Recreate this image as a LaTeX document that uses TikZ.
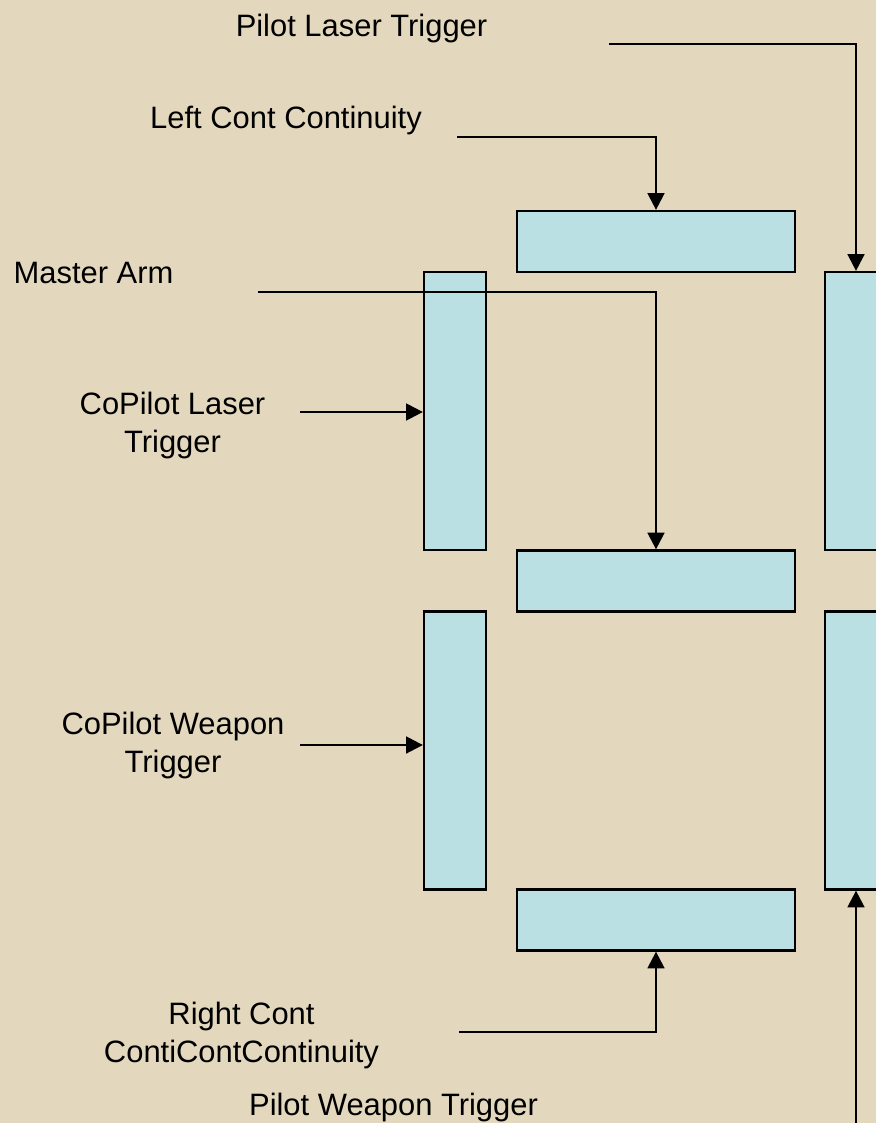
\documentclass[tikz,border=0pt]{standalone}
\usepackage{fontspec}
\setmainfont{Liberation Sans}
\usetikzlibrary{arrows.meta}
\definecolor{panelbg}{HTML}{E3D8BD}
\definecolor{segfill}{HTML}{BBE0E3}
\begin{document}
\begin{tikzpicture}[x=0.02cm, y=-0.02cm, >={Triangle[length=9.5pt,width=9.5pt]},
    every node/.style={font=\fontsize{17.6}{21.6}\selectfont},
    hseg/.style={draw, line width=1.3pt, fill=segfill, minimum width=5.56cm, minimum height=1.22cm, inner sep=0pt},
    vseg/.style={draw, line width=1.3pt, fill=segfill, minimum width=1.24cm, minimum height=5.56cm, inner sep=0pt},
    lbl/.style={anchor=base, align=center, inner sep=0pt},
    wire/.style={line width=1.4pt}]
    \clip (0,0) rectangle (876,1123);
    \fill[panelbg] (0,0) rectangle (876,1123);

    % --- 1. segments ---
    \node[hseg] (segA) at (656,241.5) {};   % top
    \node[vseg] (segB) at (856,411) {};     % upper right
    \node[vseg] (segC) at (856,750.5) {};   % lower right
    \node[hseg] (segD) at (656,920) {};     % bottom
    \node[vseg] (segE) at (455,750.5) {};   % lower left
    \node[vseg] (segF) at (455,411) {};     % upper left
    \node[hseg] (segG) at (656,581) {};     % middle

    % --- 2. labels (base = last line) ---
    \node[lbl] (plt)  at (361.5,36)  {Pilot Laser Trigger};
    \node[lbl] (lcc)  at (286,128)   {Left Cont Continuity};
    \node[lbl] (ma)   at (93.5,283)  {Master Arm};
    \node[lbl] (cplt) at (172.5,452) {CoPilot Laser\\Trigger};
    \node[lbl] (cpwt) at (173,772)   {CoPilot Weapon\\Trigger};
    \node[lbl] (rcc)  at (241.5,1062) {Right Cont\\ContiContContinuity};
    \node[lbl] (pwt)  at (393.5,1115) {Pilot Weapon Trigger};

    % free ends of the wires
    \coordinate (plt_in)  at (609,44);
    \coordinate (lcc_in)  at (457,137);
    \coordinate (ma_in)   at (258,292);
    \coordinate (cplt_in) at (300,412);
    \coordinate (cpwt_in) at (300,745);
    \coordinate (rcc_in)  at (459,1032);
    \coordinate (pwt_in)  at (856,1130);

    % --- 3. wires ---
    \draw[wire,->] (plt_in) -| (segB.north);
    \draw[wire,->] (lcc_in) -| (segA.north);
    \draw[wire,->] (ma_in) -| (segG.north);
    \draw[wire,->] (cplt_in) -- (cplt_in -| segF.west);
    \draw[wire,->] (cpwt_in) -- (cpwt_in -| segE.west);
    \draw[wire,->] (rcc_in) -| (segD.south);
    \draw[wire,->] (pwt_in) -- (segC.south);

\end{tikzpicture}
\end{document}
